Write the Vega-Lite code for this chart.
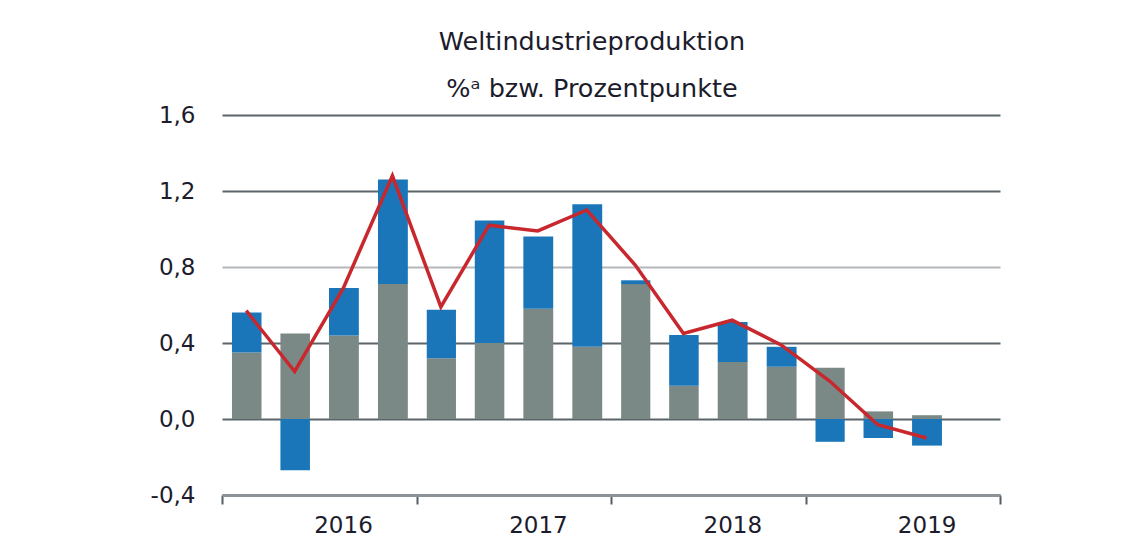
{
  "$schema": "https://vega.github.io/schema/vega-lite/v6.json",
  "width": 778,
  "height": 380,
  "autosize": {"type": "none"},
  "padding": {"left": 222, "top": 115, "right": 136, "bottom": 61},
  "background": "white",
  "config": {"view": {"stroke": null}},
  "title": {
    "text": "Weltindustrieproduktion",
    "subtitle": "%ᵃ bzw. Prozentpunkte",
    "anchor": "middle",
    "dx": -19,
    "offset": 2,
    "font": "DejaVu Sans",
    "fontSize": 25.5,
    "fontWeight": "normal",
    "color": "#1c1c2c",
    "subtitleFont": "DejaVu Sans",
    "subtitleFontSize": 25.5,
    "subtitleColor": "#1c1c2c",
    "subtitlePadding": 21
  },
  "datasets": {
    "beitraege": [
      {"quartal": "2016-01-01", "gruppe": "Schwellenländer", "wert": 0.35},
      {"quartal": "2016-01-01", "gruppe": "Industrieländer", "wert": 0.21},
      {"quartal": "2016-04-01", "gruppe": "Schwellenländer", "wert": 0.45},
      {"quartal": "2016-04-01", "gruppe": "Industrieländer", "wert": -0.27},
      {"quartal": "2016-07-01", "gruppe": "Schwellenländer", "wert": 0.44},
      {"quartal": "2016-07-01", "gruppe": "Industrieländer", "wert": 0.25},
      {"quartal": "2016-10-01", "gruppe": "Schwellenländer", "wert": 0.71},
      {"quartal": "2016-10-01", "gruppe": "Industrieländer", "wert": 0.55},
      {"quartal": "2017-01-01", "gruppe": "Schwellenländer", "wert": 0.32},
      {"quartal": "2017-01-01", "gruppe": "Industrieländer", "wert": 0.255},
      {"quartal": "2017-04-01", "gruppe": "Schwellenländer", "wert": 0.40},
      {"quartal": "2017-04-01", "gruppe": "Industrieländer", "wert": 0.645},
      {"quartal": "2017-07-01", "gruppe": "Schwellenländer", "wert": 0.58},
      {"quartal": "2017-07-01", "gruppe": "Industrieländer", "wert": 0.38},
      {"quartal": "2017-10-01", "gruppe": "Schwellenländer", "wert": 0.38},
      {"quartal": "2017-10-01", "gruppe": "Industrieländer", "wert": 0.75},
      {"quartal": "2018-01-01", "gruppe": "Schwellenländer", "wert": 0.71},
      {"quartal": "2018-01-01", "gruppe": "Industrieländer", "wert": 0.02},
      {"quartal": "2018-04-01", "gruppe": "Schwellenländer", "wert": 0.175},
      {"quartal": "2018-04-01", "gruppe": "Industrieländer", "wert": 0.267},
      {"quartal": "2018-07-01", "gruppe": "Schwellenländer", "wert": 0.30},
      {"quartal": "2018-07-01", "gruppe": "Industrieländer", "wert": 0.21},
      {"quartal": "2018-10-01", "gruppe": "Schwellenländer", "wert": 0.275},
      {"quartal": "2018-10-01", "gruppe": "Industrieländer", "wert": 0.105},
      {"quartal": "2019-01-01", "gruppe": "Schwellenländer", "wert": 0.27},
      {"quartal": "2019-01-01", "gruppe": "Industrieländer", "wert": -0.12},
      {"quartal": "2019-04-01", "gruppe": "Schwellenländer", "wert": 0.04},
      {"quartal": "2019-04-01", "gruppe": "Industrieländer", "wert": -0.10},
      {"quartal": "2019-07-01", "gruppe": "Schwellenländer", "wert": 0.02},
      {"quartal": "2019-07-01", "gruppe": "Industrieländer", "wert": -0.14}
    ],
    "gesamt": [
      {"quartal": "2016-01-01", "wert": 0.57},
      {"quartal": "2016-04-01", "wert": 0.25},
      {"quartal": "2016-07-01", "wert": 0.69},
      {"quartal": "2016-10-01", "wert": 1.28},
      {"quartal": "2017-01-01", "wert": 0.59},
      {"quartal": "2017-04-01", "wert": 1.02},
      {"quartal": "2017-07-01", "wert": 0.99},
      {"quartal": "2017-10-01", "wert": 1.10},
      {"quartal": "2018-01-01", "wert": 0.81},
      {"quartal": "2018-04-01", "wert": 0.45},
      {"quartal": "2018-07-01", "wert": 0.52},
      {"quartal": "2018-10-01", "wert": 0.39},
      {"quartal": "2019-01-01", "wert": 0.20},
      {"quartal": "2019-04-01", "wert": -0.03},
      {"quartal": "2019-07-01", "wert": -0.10}
    ]
  },
  "encoding": {
    "x": {
      "field": "quartal",
      "type": "temporal",
      "timeUnit": "utcyearquarter",
      "title": null,
      "scale": {
        "type": "utc",
        "domain": [
          {"year": 2016, "month": 1, "date": 1, "utc": true},
          {"year": 2020, "month": 1, "date": 1, "utc": true}
        ]
      },
      "axis": {
        "values": [
          {"year": 2016, "month": 1, "date": 1, "utc": true},
          {"year": 2017, "month": 1, "date": 1, "utc": true},
          {"year": 2018, "month": 1, "date": 1, "utc": true},
          {"year": 2019, "month": 1, "date": 1, "utc": true},
          {"year": 2020, "month": 1, "date": 1, "utc": true}
        ],
        "labelExpr": "utcyear(datum.value) < 2020 ? utcFormat(datum.value, '%Y') : ''",
        "labelOffset": 121,
        "labelAlign": "center",
        "labelPadding": 10,
        "labelFont": "DejaVu Sans",
        "labelFontSize": 23,
        "labelColor": "#1c1c2c",
        "labelFlush": false,
        "labelOverlap": false,
        "grid": false,
        "domainColor": "#8d9498",
        "domainWidth": 3,
        "tickColor": "#555d62",
        "tickWidth": 2,
        "tickSize": 9
      }
    }
  },
  "layer": [
    {
      "data": {"name": "beitraege"},
      "mark": {"type": "bar", "width": {"band": 0.63}},
      "encoding": {
        "y": {
          "field": "wert",
          "type": "quantitative",
          "stack": "zero",
          "title": null,
          "scale": {"domain": [-0.4, 1.6], "nice": false, "zero": false},
          "axis": {
            "values": [-0.4, 0, 0.4, 0.8, 1.2, 1.6],
            "labelExpr": "datum.value < 0 ? '-' + replace(format(-datum.value, '.1f'), '.', ',') : replace(format(datum.value, '.1f'), '.', ',')",
            "domain": false,
            "ticks": false,
            "labelPadding": 27,
            "labelFont": "DejaVu Sans",
            "labelFontSize": 23,
            "labelColor": "#1c1c2c",
            "grid": true,
            "gridWidth": 2,
            "gridColor": {"condition": {"test": "datum.value == 0.8", "value": "#b4b7b9"}, "value": "#5b6468"}
          }
        },
        "color": {
          "field": "gruppe",
          "type": "nominal",
          "scale": {"domain": ["Schwellenländer", "Industrieländer"], "range": ["#7b8986", "#1a76b8"]},
          "legend": null
        },
        "order": {"field": "gruppe", "sort": "descending"}
      }
    },
    {
      "data": {"name": "gesamt"},
      "mark": {"type": "line", "color": "#c8282d", "strokeWidth": 3.5},
      "encoding": {
        "x": {
          "field": "quartal",
          "type": "temporal",
          "timeUnit": "utcyearquarter",
          "bandPosition": 0.5
        },
        "y": {"field": "wert", "type": "quantitative"}
      }
    }
  ]
}
